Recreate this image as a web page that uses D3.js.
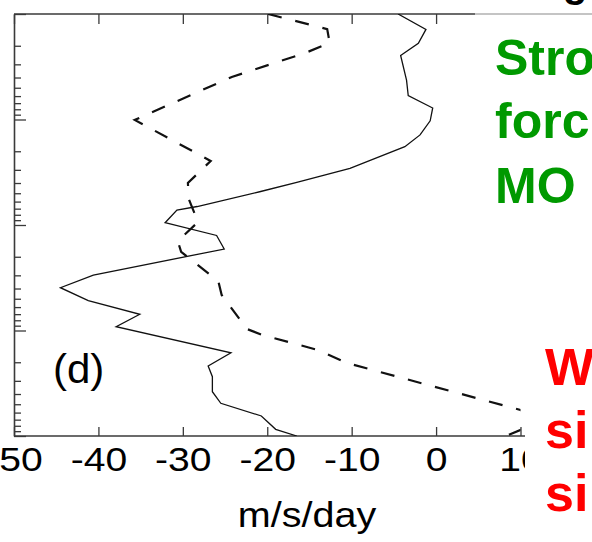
<!DOCTYPE html>
<html>
<head>
<meta charset="utf-8">
<script src="https://cdn.jsdelivr.net/npm/d3@7"></script>
<style>
  body { margin: 0; background: #fff; }
  svg { display: block; font-family: "Liberation Sans", Arial, sans-serif; }
</style>
</head>
<body>
<svg id="chart" width="592" height="542"></svg>
<script>
// pressure levels (hPa) and drag (m/s/day)
var solidP = [0.01, 0.014, 0.019, 0.0247, 0.0423, 0.0592, 0.0778, 0.103, 0.14, 0.181, 0.29, 0.395, 0.484, 0.668, 0.721, 0.951, 1.257, 1.689, 2.98, 3.93, 5.2, 7.02, 9.2, 16.3, 21.7, 27.4, 38.0, 49.0, 64.6, 86.4, 100];
var solidU = [-4.5, -1.2, -2.1, -4.2, -3.5, -3.3, -0.4, -0.7, -1.9, -3.7, -10.2, -16.5, -20.9, -28.3, -30.7, -32.1, -26.0, -25.1, -40.6, -44.5, -41.2, -35.1, -37.9, -24.3, -27.0, -26.5, -26.5, -25.5, -20.7, -19.0, -16.5];

var dashP = [0.01, 0.0139, 0.0188, 0.0234, 0.0395, 0.101, 0.247, 0.4, 0.567, 0.937, 1.418, 1.8, 3.4, 4.61, 9.68, 11.0, 15.3, 20.3, 23.7, 56.7, 70.5, 109];
var dashU = [-19.9, -12.9, -12.6, -15.5, -24.2, -35.7, -26.7, -29.4, -29.3, -28.2, -30.6, -30.2, -25.8, -25.4, -22.4, -20.6, -14.0, -10.55, -7.5, 10.0, 12.9, 7.1];

var xTicks = [-50, -40, -30, -20, -10, 0, 10];
var xLabel = "m/s/day";
var panelLabel = "(d)";
var greenLines = ["Stro", "forc", "MO"];
var redLines = ["W", "si", "si"];

var svg = d3.select("#chart");
var pLeft = 14, pRight = 520.5, pTop = 14, pBottom = 436;

var x = d3.scaleLinear().domain([-50, 10]).range([pLeft, pRight]);
var y = d3.scaleLog().domain([0.01, 100]).range([pTop, pBottom]);

// minor / major log ticks
var majors = [0.01, 0.1, 1, 10, 100];
var minors = [];
majors.slice(0, 4).forEach(function (m) {
  for (var k = 2; k <= 9; k++) minors.push(m * k);
});

svg.append("defs").append("clipPath").attr("id", "plotclip")
  .append("rect").attr("x", pLeft).attr("y", pTop)
  .attr("width", pRight - pLeft).attr("height", pBottom - pTop);

var axisColor = "#3a3a3a";

// left axis, ticks pointing inward
var gl = svg.append("g").attr("transform", "translate(" + pLeft + ",0)")
  .call(d3.axisRight(y).tickValues(majors).tickSize(12).tickSizeOuter(0).tickFormat(""));
var gm = svg.append("g").attr("transform", "translate(" + pLeft + ",0)")
  .call(d3.axisRight(y).tickValues(minors).tickSize(7).tickSizeOuter(0).tickFormat(""));
gm.select(".domain").remove();

// top axis, no labels
var gt = svg.append("g").attr("transform", "translate(0," + pTop + ")")
  .call(d3.axisBottom(x).tickValues(xTicks.slice(0, 6)).tickSize(10).tickSizeOuter(0).tickFormat(""));
gt.select(".domain").remove();

// bottom axis with labels
var gb = svg.append("g").attr("transform", "translate(0," + pBottom + ")")
  .call(d3.axisBottom(x).tickValues(xTicks).tickSize(-9).tickSizeOuter(0).tickPadding(11)
    .tickFormat(function (d) { return String(d); }));
gb.select(".domain").remove();
gb.selectAll("text")
  .attr("font-size", 34)
  .attr("fill", "#000")
  .attr("font-family", "Liberation Sans, Arial, sans-serif")
  .attr("transform", "scale(1.15,1)");

svg.selectAll(".tick line").attr("stroke", axisColor).attr("stroke-width", 1.3);
gl.select(".domain").attr("stroke", axisColor).attr("stroke-width", 1.6);

// frame lines
svg.append("line").attr("x1", pLeft).attr("x2", 525).attr("y1", pBottom).attr("y2", pBottom)
  .attr("stroke", axisColor).attr("stroke-width", 1.6);
svg.append("line").attr("x1", pLeft).attr("x2", 475).attr("y1", pTop).attr("y2", pTop)
  .attr("stroke", axisColor).attr("stroke-width", 1.6);
svg.append("line").attr("x1", 475).attr("x2", 592).attr("y1", pTop).attr("y2", pTop)
  .attr("stroke", "#b0b0b0").attr("stroke-width", 1.4);

// profiles
var line = d3.line().x(function (d) { return x(d[0]); }).y(function (d) { return y(d[1]); });
var plot = svg.append("g").attr("clip-path", "url(#plotclip)");

plot.append("path")
  .datum(d3.zip(solidU, solidP))
  .attr("d", line)
  .attr("fill", "none")
  .attr("stroke", "#111")
  .attr("stroke-width", 1.3);

plot.append("path")
  .datum(d3.zip(dashU, dashP))
  .attr("d", line)
  .attr("fill", "none")
  .attr("stroke", "#111")
  .attr("stroke-width", 2.2)
  .attr("stroke-dasharray", "14,14");

svg.append("text").attr("x", 53).attr("y", 383)
  .attr("font-size", 40).attr("transform", "translate(53,0) scale(1.05,1) translate(-53,0)")
  .text(panelLabel);

svg.append("text").attr("x", 307).attr("y", 527)
  .attr("text-anchor", "middle").attr("font-size", 35)
  .attr("transform", "translate(307,0) scale(1.13,1) translate(-307,0)")
  .text(xLabel);

// overlapping text boxes on the right
svg.append("rect").attr("x", 525).attr("y", 300).attr("width", 67).attr("height", 242).attr("fill", "#fff");

svg.append("text").attr("x", 563).attr("y", -3).attr("font-size", 40).attr("font-weight", "bold").text("g");

svg.selectAll(".green").data(greenLines).enter().append("text")
  .attr("class", "green")
  .attr("x", 495)
  .attr("y", function (d, i) { return [75, 138, 203][i]; })
  .attr("font-size", 50).attr("font-weight", "bold").attr("fill", "#009900")
  .text(function (d) { return d; });

svg.selectAll(".red").data(redLines).enter().append("text")
  .attr("class", "red")
  .attr("x", 545)
  .attr("y", function (d, i) { return [385, 448, 511][i]; })
  .attr("font-size", 52).attr("font-weight", "bold").attr("fill", "#ff0000")
  .text(function (d) { return d; });
</script>
</body>
</html>
